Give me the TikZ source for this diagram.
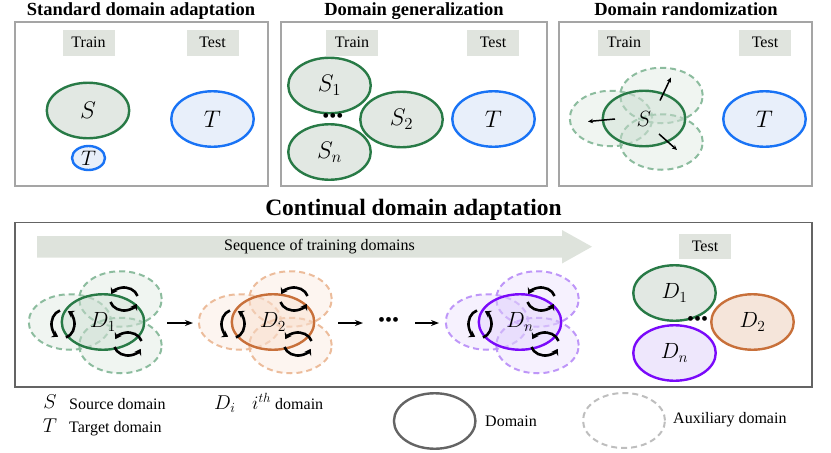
\RequirePackage{fix-cm}
\documentclass[tikz,border=0pt]{standalone}
\usepackage[no-math]{fontspec}
\setmainfont{Liberation Serif}
\usetikzlibrary{shapes.geometric,arrows.meta}

\definecolor{gS}{RGB}{40,122,70}
\definecolor{gF}{RGB}{226,232,227}
\definecolor{gA}{RGB}{140,188,158}
\definecolor{gAf}{RGB}{205,222,210}
\definecolor{oS}{RGB}{200,112,58}
\definecolor{oF}{RGB}{245,229,218}
\definecolor{oA}{RGB}{236,188,155}
\definecolor{oAf}{RGB}{248,222,205}
\definecolor{pS}{RGB}{122,10,250}
\definecolor{pF}{RGB}{238,231,252}
\definecolor{pA}{RGB}{190,150,248}
\definecolor{pAf}{RGB}{225,210,252}
\definecolor{bS}{RGB}{25,115,245}
\definecolor{bF}{RGB}{232,239,250}
\definecolor{labF}{RGB}{224,228,222}
\definecolor{seqF}{RGB}{222,227,220}
\definecolor{frameL}{RGB}{165,165,165}
\definecolor{frameD}{RGB}{100,100,100}
\definecolor{legA}{RGB}{190,190,190}

\newcommand\myfs[1]{\fontsize{#1}{#1}\selectfont}

\tikzset{
  panel/.style={draw=frameL, line width=1.4pt},
  bigpanel/.style={draw=frameD, line width=1.4pt},
  lbl/.style={fill=labF, minimum width=52pt, minimum height=26pt, inner sep=0pt, font=\myfs{16}},
  ttl/.style={font=\myfs{18.5}\bfseries, anchor=base},
  dom/.style={ellipse, line width=2.4pt, minimum width=82.5pt, minimum height=55.5pt, inner sep=0pt, font=\myfs{24}},
  gdom/.style={dom, draw=gS, fill=gF},
  bdom/.style={dom, draw=bS, fill=bF},
  ddom/.style={dom, draw=#1S, fill=#1F, font=\myfs{22}},
  auxdom/.style={ellipse, minimum width=82.5pt, minimum height=55.5pt, inner sep=0pt,
     draw=#1A, line width=2pt, dash pattern=on 6pt off 4pt, fill=#1Af, fill opacity=0.3},
  maindom/.style={dom, draw=#1S, fill=#1Af, fill opacity=0.45, text opacity=1, font=\myfs{22}},
  dots/.style={font=\myfs{20}, inner sep=0pt},
  txt/.style={font=\myfs{16}, inner sep=0pt},
  legm/.style={font=\myfs{20}, inner sep=0pt},
  rotarr/.style={line width=2.6pt, -{Stealth[length=6pt,width=8pt]}},
  pusharr/.style={line width=1.5pt, -{Stealth[length=5pt,width=4.5pt]}},
  seqarr/.style={line width=1.3pt, -{Stealth[length=8pt,width=6pt]}},
  rotsym/.pic={
    \draw[rotarr] (-13.5,3) arc[start angle=165, end angle=25, x radius=14, y radius=11.5];
    \draw[rotarr] (13.5,-3) arc[start angle=-15, end angle=-155, x radius=14, y radius=11.5];
  }
}

\newcommand\auxcluster[5]{% name, x, y, colour prefix, label
  \node[auxdom=#4] (#1l) at ({#2-33},{#3}) {};
  \node[auxdom=#4] (#1t) at ({#2+17.5},{#3-23}) {};
  \node[auxdom=#4] (#1b) at ({#2+17.5},{#3+23.5}) {};
  \node[maindom=#4] (#1) at (#2,#3) {#5};
}
\newcommand\rotsyms[2]{%
  \pic[rotate=90] at ({#1-40},{#2+2}) {rotsym};
  \pic at ({#1+21},{#2-23}) {rotsym};
  \pic at ({#1+25},{#2+22}) {rotsym};
}

\begin{document}
\begin{tikzpicture}[x=1pt, y=-1pt]
\useasboundingbox (0,0) rectangle (831,453);

% ---------- top panels ----------
\draw[panel] (15,22) rectangle (268,186);
\draw[panel] (281,22) rectangle (547,186);
\draw[panel] (559,22) rectangle (812,186);

\node[ttl] (t1) at (141,15) {Standard domain adaptation};
\node[ttl] (t2) at (414,15) {Domain generalization};
\node[ttl] (t3) at (686,15) {Domain randomization};

\node[lbl] (tr1) at (88.5,42.5) {Train};
\node[lbl] (te1) at (212.5,42.5) {Test};
\node[lbl] (tr2) at (352,42.5) {Train};
\node[lbl] (te2) at (493,42.5) {Test};
\node[lbl] (tr3) at (624,42.5) {Train};
\node[lbl] (te3) at (765,42.5) {Test};

% panel 1
\node[gdom] (S1a) at (88,110.5) {$S$};
\node[bdom, minimum width=33pt, minimum height=24pt, font=\myfs{21}] (Tsm) at (88.5,158) {$T$};
\node[bdom] (T1) at (212.5,119) {$T$};

% panel 2
\node[gdom] (S1) at (329.5,85.5) {$S_1$};
\node[gdom] (Sn) at (329.5,152) {$S_n$};
\node[gdom] (S2) at (401.5,119.5) {$S_2$};
\node[dots] (dg) at (333,118) {•••};
\node[bdom] (T2) at (493.5,119) {$T$};

% panel 3
\auxcluster{S3}{644}{118.5}{g}{$S$}
\draw[pusharr] ([shift={(16,-18)}]S3.center) -- ([shift={(27,-41)}]S3.center);
\draw[pusharr] ([shift={(-29,0.5)}]S3.center) -- ([shift={(-56,3)}]S3.center);
\draw[pusharr] ([shift={(15,15.5)}]S3.center) -- ([shift={(33,31.5)}]S3.center);
\node[bdom] (T3) at (764.5,119) {$T$};

% ---------- continual domain adaptation ----------
\node[font=\myfs{23.5}\bfseries, anchor=base] (t4) at (413.5,215.7) {Continual domain adaptation};
\draw[bigpanel] (15,222.5) rectangle (812,387);

\fill[seqF] (37,236) -- (562,236) -- (562,230) -- (592,246.7) -- (562,263.5) -- (562,257.5) -- (37,257.5) -- cycle;
\node[txt] (seq) at (319.5,246.5) {Sequence of training domains};

\auxcluster{D1c}{103}{322}{g}{$D_1$}
\rotsyms{103}{322}
\auxcluster{D2c}{273}{322}{o}{$D_2$}
\rotsyms{273}{322}
\auxcluster{Dnc}{520}{322}{p}{$D_n$}
\rotsyms{520}{322}

\coordinate (a1s) at (167,323);
\coordinate (a1e) at (193,323);
\coordinate (a2s) at (338,323);
\coordinate (a2e) at (363,323);
\coordinate (a3s) at (415,323);
\coordinate (a3e) at (439,323);
\draw[seqarr] (a1s) -- (a1e);
\draw[seqarr] (a2s) -- (a2e);
\node[dots] (dseq) at (388.5,322) {•••};
\draw[seqarr] (a3s) -- (a3e);

\node[lbl, minimum height=25pt] (te4) at (705,246.5) {Test};
\node[ddom=g] (TD1) at (674.5,293) {$D_1$};
\node[ddom=o] (TD2) at (752.5,322) {$D_2$};
\node[ddom=p] (TDn) at (674.5,353) {$D_n$};
\node[dots] (dt) at (697.5,321) {•••};

% ---------- legend ----------
\node[legm, anchor=base] (lS) at (50,408.5) {$S$};
\node[txt, anchor=base west] (lSt) at (69,409) {Source domain};
\node[legm, anchor=base] (lT) at (50,432.5) {$T$};
\node[txt, anchor=base west] (lTt) at (69,432.5) {Target domain};
\node[legm, anchor=base west] (lD) at (214,409) {$D_i$};
\node[txt, anchor=base west] (lDt) at (252,409) {{\myfs{19}$i^{th}$} domain};

\node[ellipse, draw=frameD, line width=2.4pt, minimum width=81.5pt, minimum height=55.5pt, inner sep=0pt] (lg1) at (434.7,421) {};
\node[txt, anchor=base west] (lg1t) at (485,426) {Domain};
\node[ellipse, draw=legA, line width=2pt, dash pattern=on 6pt off 4pt, minimum width=82pt, minimum height=55pt, inner sep=0pt] (lg2) at (624,420.5) {};
\node[txt, anchor=base west] (lg2t) at (673,423) {Auxiliary domain};
\end{tikzpicture}
\end{document}
